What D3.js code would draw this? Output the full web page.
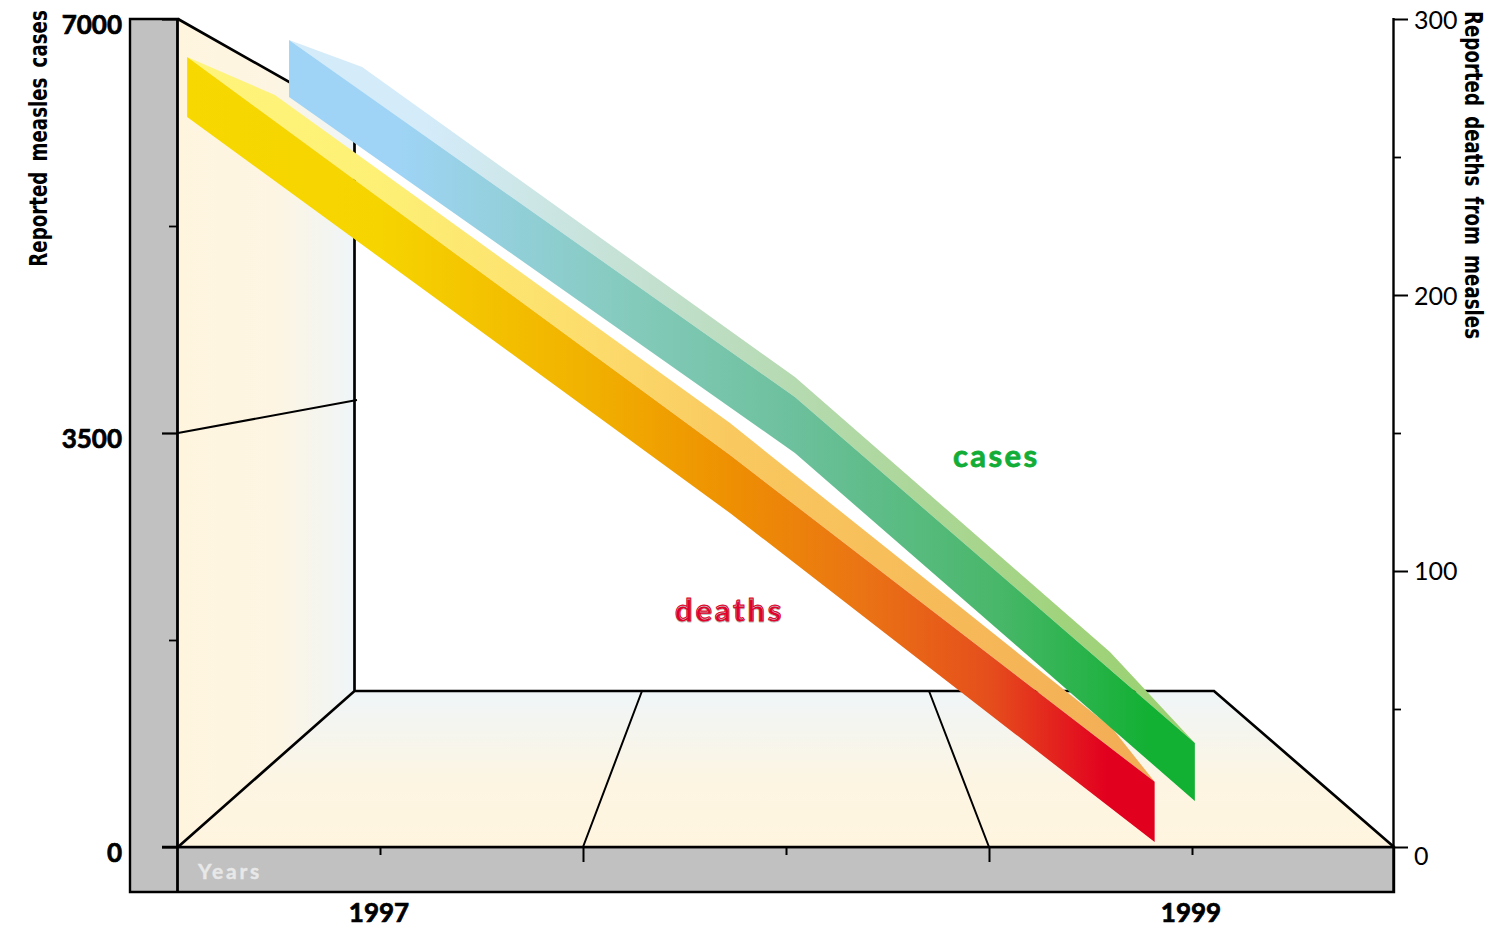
<!DOCTYPE html>
<html><head><meta charset="utf-8">
<style>html,body{margin:0;padding:0;background:#fff}svg{display:block}</style>
<script src="https://cdn.jsdelivr.net/npm/d3@7/dist/d3.min.js"></script>
</head><body><svg id="c" width="1499" height="928"></svg>
<script>
// ---- data ----
const casesFrontYears = [1996.776, 1998.022, 1999.007];
const casesTop        = [6822, 3804, 879];
const casesBottom     = [6341, 3331, 389];
const casesBackYears  = [1996.776, 1996.956, 1998.022, 1998.798, 1999.007];
const casesBack       = [6822, 6594, 3973, 1649, 879];

const deathsFrontYears = [1996.525, 1997.862, 1998.908];
const deathsTop        = [286.2, 142.0, 23.6];
const deathsBottom     = [264.5, 121.0, 1.8];
const deathsBackYears  = [1996.525, 1996.741, 1997.862, 1998.803, 1998.908];
const deathsBack       = [286.2, 272.5, 153.6, 43.1, 23.6];

const yearLabels = [1997, 1999];
const yearMajorTicks = [1997.5, 1998.5];
const yearMinorTicks = [1997, 1998, 1999];
const casesMajor = [0, 3500, 7000];
const casesMinor = [1750, 5250];
const deathsMajor = [0, 100, 200, 300];
const deathsMinor = [50, 150, 250];

// ---- scales ----
const x = d3.scaleLinear().domain([1997, 1999]).range([380, 1192]);
const yC = d3.scaleLinear().domain([0, 7000]).range([847, 19]);
const yD = d3.scaleLinear().domain([0, 300]).range([847, 19]);

const FONT = "Lato, 'Noto Sans', sans-serif";
const svg = d3.select("#c");
const defs = svg.append("defs");
function grad(id, x1, y1, x2, y2, stops){
  const g = defs.append("linearGradient").attr("id", id).attr("gradientUnits","userSpaceOnUse")
    .attr("x1",x1).attr("y1",y1).attr("x2",x2).attr("y2",y2);
  stops.forEach(s => g.append("stop").attr("offset", s[0]).attr("stop-color", s[1]));
}
grad("wall",178,0,354,0,[[0,"#fff5df"],[0.55,"#fdf5e2"],[1,"#eff5f8"]]);
grad("floor",0,691,0,847,[[0,"#eff5f8"],[0.6,"#fdf5e2"],[1,"#fff5df"]]);
grad("cF",289,0,1195,0,[[0,"#9fd4f6"],[0.12,"#9fd4f6"],[0.38,"#84cabb"],[0.56,"#6cc09c"],[0.78,"#49b76a"],[0.95,"#12b033"],[1,"#12b033"]]);
grad("cB",289,0,1195,0,[[0,"#d4ebfa"],[0.15,"#d4ebfa"],[0.40,"#c3e0cf"],[0.56,"#b5dab0"],[0.85,"#a1d37d"],[1,"#9ad070"]]);
grad("dF",187,0,1155,0,[[0,"#f7d800"],[0.2,"#f6d400"],[0.42,"#f1b000"],[0.56,"#ee9002"],[0.7,"#ea7314"],[0.83,"#e54e1c"],[0.95,"#e2001f"],[1,"#e2001f"]]);
grad("dB",187,0,1155,0,[[0,"#fff57a"],[0.2,"#fdf075"],[0.42,"#fcdc6c"],[0.56,"#f9c95f"],[0.8,"#f6b958"],[1,"#f3ac55"]]);

// ---- box ----
svg.append("path").attr("d","M130,19H178V847H1394V892H130Z").attr("fill","#c1c1c1")
  .attr("stroke","#000").attr("stroke-width",2.4);
svg.append("path").attr("d","M178,19L354.5,119V691L178,847Z").attr("fill","url(#wall)");
svg.append("path").attr("d","M178,847L354.5,691H1214L1394,847Z").attr("fill","url(#floor)");
const frame = svg.append("g").attr("fill","none").attr("stroke","#000");
frame.append("path").attr("stroke-width",2.7).attr("d","M178,19L354.5,119V691M178,847L354.5,691H1214L1394,847");
frame.append("path").attr("stroke-width",2).attr("d",
  `M178,${yC(3500)}L357,400 M${x(1997.5)},847L642,691 M${x(1998.5)},847L929,691`);
frame.append("path").attr("stroke-width",2.8).attr("d","M177.5,19V893");
frame.append("path").attr("stroke-width",2.4).attr("d","M162,847H1394");

// ---- axes ----
function tidy(g, w){ g.attr("font-size",0); g.select(".domain").remove();
  g.selectAll("line").attr("stroke","#000").attr("stroke-width",w); }
svg.append("g").attr("transform","translate(177,0)")
  .call(d3.axisLeft(yC).tickValues(casesMajor).tickSize(15).tickFormat("")).call(tidy,2.2);
svg.append("g").attr("transform","translate(177,0)")
  .call(d3.axisLeft(yC).tickValues(casesMinor).tickSize(8).tickFormat("")).call(tidy,1.8);
svg.append("g").attr("transform","translate(0,847)")
  .call(d3.axisBottom(x).tickValues(yearMajorTicks).tickSize(15).tickFormat("")).call(tidy,2);
svg.append("g").attr("transform","translate(0,847)")
  .call(d3.axisBottom(x).tickValues(yearMinorTicks).tickSize(8).tickFormat("")).call(tidy,2);
svg.append("line").attr("x1",1393.5).attr("x2",1393.5).attr("y1",18).attr("y2",893).attr("stroke","#000").attr("stroke-width",2.4);
svg.append("g").attr("transform","translate(1393,0)")
  .call(d3.axisRight(yD).tickValues(deathsMajor).tickSize(15).tickFormat("")).call(tidy,2);
svg.append("g").attr("transform","translate(1393,0)")
  .call(d3.axisRight(yD).tickValues(deathsMinor).tickSize(8).tickFormat("")).call(tidy,1.8);

// ---- ribbons ----
function face(xs, top, bot, yScale){
  const pts = xs.map((v,i)=>[x(v), yScale(top[i])]);
  const low = xs.map((v,i)=>[x(v), yScale(bot[i])]).reverse();
  return d3.line()(pts.concat(low)) + "Z";
}
svg.append("path").attr("d",face(deathsBackYears,deathsBack,
   deathsBackYears.map(v=>d3.scaleLinear().domain(deathsFrontYears).range(deathsTop)(v)),yD)).attr("fill","url(#dB)");
svg.append("path").attr("d",face(deathsFrontYears,deathsTop,deathsBottom,yD)).attr("fill","url(#dF)");
svg.append("path").attr("d",face(casesBackYears,casesBack,
   casesBackYears.map(v=>d3.scaleLinear().domain(casesFrontYears).range(casesTop)(v)),yC)).attr("fill","url(#cB)");
svg.append("path").attr("d",face(casesFrontYears,casesTop,casesBottom,yC)).attr("fill","url(#cF)");

// ---- text ----
function text(t, px, py, o){
  o = o||{};
  const e = svg.append("text").text(t).attr("x",o.squeeze?0:px).attr("y",o.squeeze?0:py)
    .attr("font-family",o.family||FONT).attr("font-size",o.size||26).attr("font-weight",o.weight||"bold")
    .attr("fill",o.fill||"#000").attr("text-anchor",o.anchor||"middle");
  if(o.ls) e.attr("letter-spacing",o.ls);
  if(o.ws!==undefined) e.attr("word-spacing",o.ws);
  if(o.bold) e.attr("stroke",o.fill||"#000").attr("stroke-width",o.bold);
  if(o.squeeze) e.attr("transform",`translate(${px} ${py}) rotate(${o.rot}) scale(${o.squeeze} 1)`);
  if(o.shadow) e.style("text-shadow",o.shadow);
  return e;
}
const casesLabelShift = {0: 15, 3500: 15, 7000: 15};
casesMajor.forEach(v => text(d3.format("d")(v), 122, yC(v)+casesLabelShift[v], {anchor:"end",bold:0.7}));
const deathsLabelShift = {0: 18, 100: 9, 200: 10, 300: 10};
deathsMajor.forEach(v => text(d3.format("d")(v), 1414, yD(v)+deathsLabelShift[v], {anchor:"start",weight:"normal",size:25}));
yearLabels.forEach(v => text(v, x(v)-1, 922, {bold:0.7}));
text("Years",198,879,{anchor:"start",size:21,fill:"#e8e8e8",ls:2.8,bold:0.4});
text("cases",953,467,{anchor:"start",size:31,fill:"#12ad37",ls:2.4,bold:0.8});
text("deaths",675,621,{anchor:"start",size:31,fill:"#e2002a",ls:2.8,bold:0.9,shadow:"0 1px 0 #bbb"});
const sans = "'DejaVu Sans',sans-serif";
text("Reported measles cases",47,138.5,{rot:-90,squeeze:0.76,size:24,family:sans,ws:5});
text("Reported deaths from measles",1465,175,{rot:90,squeeze:0.76,size:24,family:sans,ws:5});
</script></body></html>
